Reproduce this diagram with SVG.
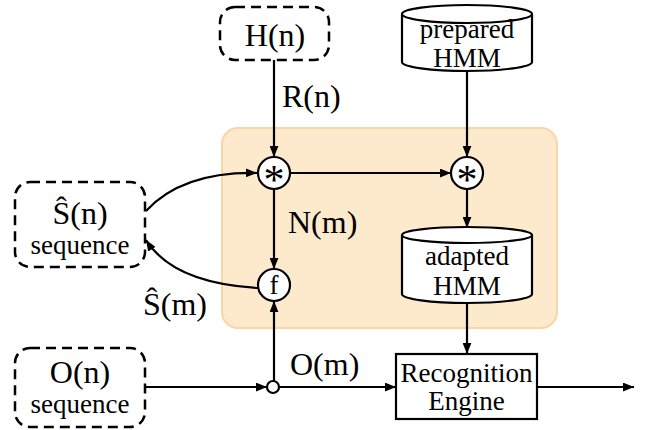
<svg xmlns="http://www.w3.org/2000/svg" width="647" height="430" viewBox="0 0 647 430" font-family="'Liberation Serif','DejaVu Serif',serif">
<style>
text{font-family:"Liberation Serif","DejaVu Serif",serif;fill:#000}
.big{font-size:32px}
.sm{font-size:27px}
.dash{fill:#fff;stroke:#000;stroke-width:2.5;stroke-dasharray:10 6}
.ln{fill:none;stroke:#000;stroke-width:2.2}
.shape{fill:#fff;stroke:#000;stroke-width:2.2}
.cyl{fill:#fff;stroke:#000;stroke-width:2.2}
.star{font-size:42px}
</style>
<defs>
<marker id="ah" viewBox="0 0 10 8" refX="10" refY="4" markerWidth="11" markerHeight="9" markerUnits="userSpaceOnUse" orient="auto"><path d="M0,0 L10,4 L0,8 z" fill="#000"/></marker>
</defs>
<rect id="region" x="222" y="128" width="335" height="200" rx="16" fill="#FDE9CC" stroke="#F9D6A8" stroke-width="2"/>
<g id="connectors">
<path class="ln" d="M274,60 V157" marker-end="url(#ah)"/>
<path class="ln" d="M467,72 V157" marker-end="url(#ah)"/>
<path class="ln" d="M290,173 H451" marker-end="url(#ah)"/>
<path class="ln" d="M274,189 V269" marker-end="url(#ah)"/>
<path class="ln" d="M467,189 V228" marker-end="url(#ah)"/>
<path class="ln" d="M467,303 V354" marker-end="url(#ah)"/>
<path class="ln" d="M146,211 C170,185 205,172 257,173" marker-end="url(#ah)"/>
<path class="ln" d="M258,288 C205,285 165,270 146,240" marker-end="url(#ah)"/>
<path class="ln" d="M145,387 H267" marker-end="url(#ah)"/>
<path class="ln" d="M279,387 H396" marker-end="url(#ah)"/>
<path class="ln" d="M274,381 V301" marker-end="url(#ah)"/>
<path class="ln" d="M537,387 H634" marker-end="url(#ah)"/>
</g>
<g id="Hn"><rect class="dash" x="220" y="7" width="109" height="53" rx="15"/><text class="big" x="275" y="46" text-anchor="middle">H(n)</text></g>
<g id="Rn-label"><text class="big" x="282" y="107">R(n)</text></g>
<g id="preparedHMM">
<path class="cyl" d="M402,14 V62 A65,9 0 0 0 532,62 V14"/>
<ellipse class="cyl" cx="467" cy="14" rx="65" ry="9"/>
<text class="sm" x="467" y="38" text-anchor="middle">prepared</text>
<text class="sm" x="467" y="67" text-anchor="middle">HMM</text>
</g>
<g id="conv1"><circle class="shape" cx="274" cy="173" r="16"/><text class="star" x="274" y="194" text-anchor="middle">*</text></g>
<g id="conv2"><circle class="shape" cx="467" cy="173" r="16"/><text class="star" x="467" y="194" text-anchor="middle">*</text></g>
<g id="Nm-label"><text class="big" x="288" y="233">N(m)</text></g>
<g id="f"><circle class="shape" cx="274" cy="285" r="16"/><text class="sm" x="274" y="294" text-anchor="middle">f</text></g>
<g id="adaptedHMM">
<path class="cyl" d="M402,235 V294 A65,9 0 0 0 532,294 V235"/>
<ellipse class="cyl" cx="467" cy="235" rx="65" ry="8"/>
<text class="sm" x="467" y="265" text-anchor="middle">adapted</text>
<text class="sm" x="467" y="295" text-anchor="middle">HMM</text>
</g>
<g id="Sn"><rect class="dash" x="15" y="182" width="130" height="85" rx="15"/><text class="big" x="80" y="224" text-anchor="middle">Ŝ(n)</text><text class="sm" x="80" y="254" text-anchor="middle">sequence</text></g>
<g id="Sm-label"><text class="big" x="143" y="315">Ŝ(m)</text></g>
<g id="On"><rect class="dash" x="15" y="348" width="130" height="79" rx="15"/><text class="big" x="80" y="383" text-anchor="middle">O(n)</text><text class="sm" x="80" y="413" text-anchor="middle">sequence</text></g>
<g id="junction"><circle cx="273" cy="387" r="6" fill="#fff" stroke="#000" stroke-width="2.2"/></g>
<g id="Om-label"><text class="big" x="290" y="375">O(m)</text></g>
<g id="recog"><rect class="shape" x="396" y="354" width="141" height="65"/><text class="sm" x="466.5" y="382" text-anchor="middle">Recognition</text><text class="sm" x="466.5" y="410" text-anchor="middle">Engine</text></g>
</svg>
